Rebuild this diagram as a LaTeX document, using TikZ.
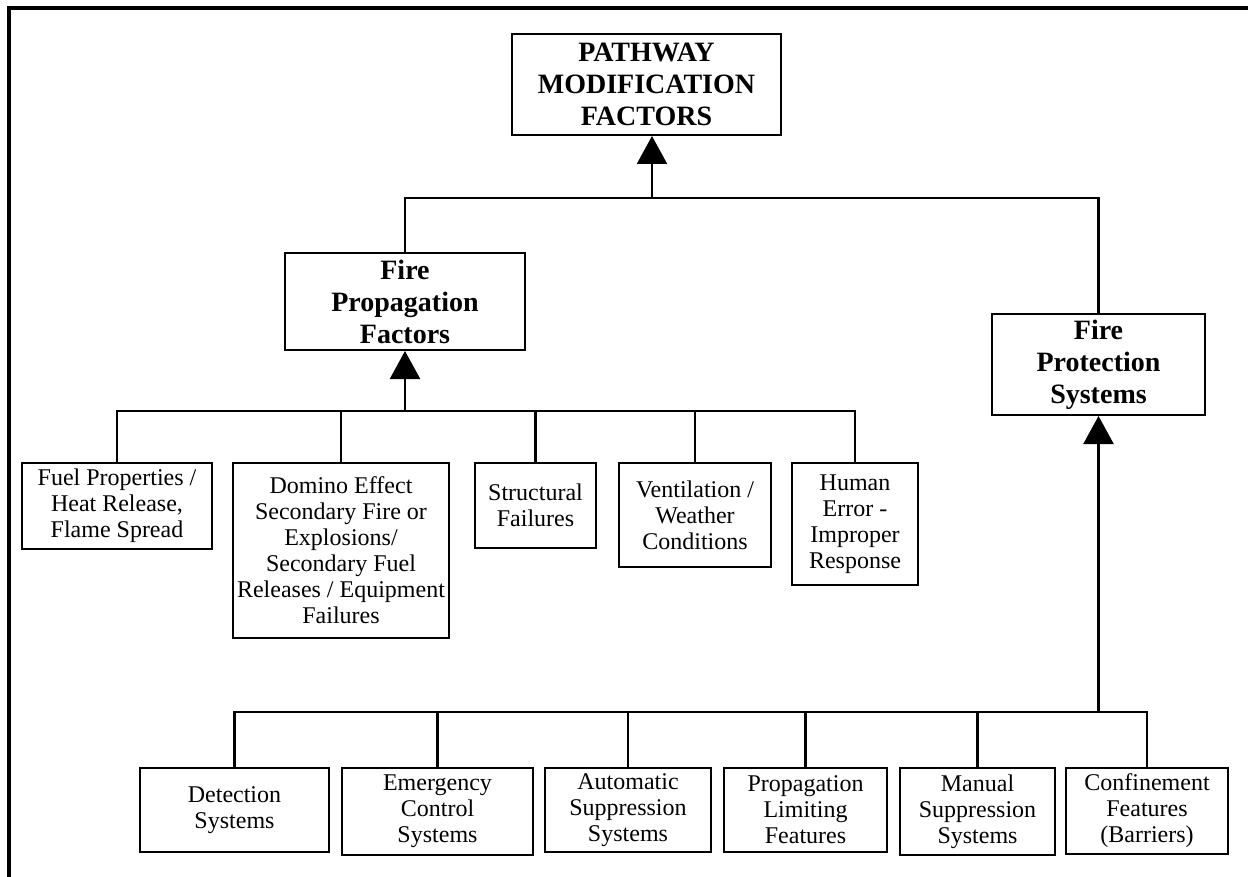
\documentclass[tikz,border=0pt]{standalone}
\usepackage{fontspec}
\setmainfont{Liberation Serif}
\usetikzlibrary{arrows.meta}

\tikzset{
  box/.style={draw, line width=1pt, align=center, inner sep=0pt, fill=white,
              font=\fontsize{12}{13}\selectfont},
  headbox/.style={box, font=\fontsize{14}{16}\selectfont\bfseries},
  link/.style={line width=1.2pt},
  uparrow/.style={line width=1.2pt, -{Triangle[length=14pt,width=15pt]}},
  frame/.style={line width=2pt}
}

\begin{document}
\begin{tikzpicture}[x=0.5pt, y=-0.5pt]
  \useasboundingbox (0,0) rectangle (1248,877);

  % outer frame (top and left edges)
  \draw[frame] (1260,8.5) -- (8.5,8.5) -- (8.5,890);

  % main headings
  \node[headbox, minimum width=134.5pt, minimum height=50.5pt] (top) at (646.5,84.5)
    {PATHWAY\\MODIFICATION\\FACTORS};
  \node[headbox, minimum width=120pt, minimum height=48.5pt] (prop) at (405,301.5)
    {Fire\\Propagation\\Factors};
  \node[headbox, minimum width=106.5pt, minimum height=50.5pt] (prot) at (1098.5,364.5)
    {Fire\\Protection\\Systems};

  % fire propagation factors
  \node[box, minimum width=95pt, minimum height=43pt] (fuel) at (117,506)
    {Fuel Properties /\\Heat Release,\\Flame Spread};
  \node[box, minimum width=108pt, minimum height=87.5pt] (domino) at (341,550.5)
    {Domino Effect\\Secondary Fire or\\Explosions/\\Secondary Fuel\\Releases / Equipment\\Failures};
  \node[box, minimum width=60.5pt, minimum height=42.5pt] (struct) at (535.5,505.5)
    {Structural\\Failures};
  \node[box, minimum width=76pt, minimum height=52pt] (vent) at (695,515)
    {Ventilation /\\Weather\\Conditions};
  \node[box, minimum width=63pt, minimum height=61pt] (human) at (855,524)
    {Human\\Error -\\Improper\\Response};

  % fire protection systems
  \node[box, minimum width=94.5pt, minimum height=42pt] (detect) at (234.5,810)
    {Detection\\Systems};
  \node[box, minimum width=95.5pt, minimum height=43.5pt] (emerg) at (437.5,811.5)
    {Emergency\\Control\\Systems};
  \node[box, minimum width=83pt, minimum height=42pt] (auto) at (628,810)
    {Automatic\\Suppression\\Systems};
  \node[box, minimum width=81.5pt, minimum height=42pt] (limit) at (805.5,810)
    {Propagation\\Limiting\\Features};
  \node[box, minimum width=77.5pt, minimum height=43.5pt] (manual) at (977.5,811.5)
    {Manual\\Suppression\\Systems};
  \node[box, minimum width=81pt, minimum height=43pt] (confine) at (1147,810.5)
    {Confinement\\Features\\(Barriers)};

  % junction points of the tree
  \coordinate (tjoin) at (652,198);
  \coordinate (pjoin) at (405,411);
  \coordinate (bjoin) at (1098.5,712);

  % top level
  \draw[link] (prop.north) |- (tjoin);
  \draw[link] (prot.north) |- (tjoin);
  \draw[uparrow] (tjoin) -- (tjoin |- top.south);

  % propagation branch
  \foreach \n in {fuel,domino,struct,vent,human}
    \draw[link] (\n.north) |- (pjoin);
  \draw[uparrow] (pjoin) -- (prop.south);

  % protection branch
  \foreach \n in {detect,emerg,auto,limit,manual,confine}
    \draw[link] (\n.north) |- (bjoin);
  \draw[uparrow] (bjoin) -- (prot.south);
\end{tikzpicture}
\end{document}
